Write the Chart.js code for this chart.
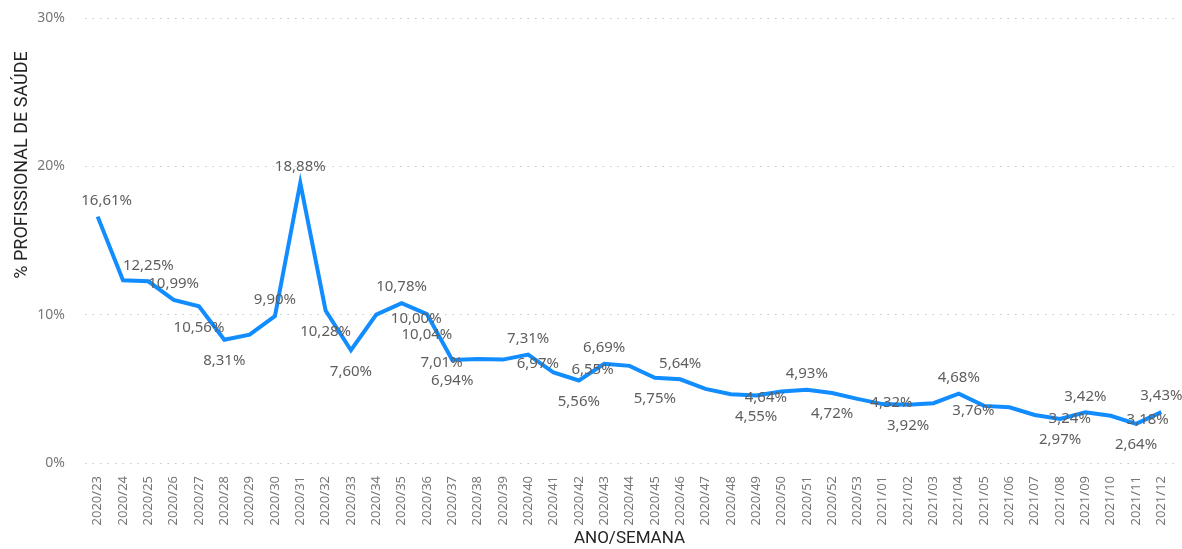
<!DOCTYPE html>
<html>
<head>
<meta charset="utf-8">
<script src="https://cdn.jsdelivr.net/npm/chart.js@4"></script>
<style>
  html, body { margin: 0; padding: 0; background: #fff; }
  #wrap { width: 1182px; height: 549px; position: relative; }
</style>
</head>
<body>
<div id="wrap"><canvas id="chart"></canvas></div>
<script>
const weeks = [
    '2020/23', '2020/24', '2020/25', '2020/26', '2020/27', '2020/28', '2020/29', '2020/30',
    '2020/31', '2020/32', '2020/33', '2020/34', '2020/35', '2020/36', '2020/37', '2020/38',
    '2020/39', '2020/40', '2020/41', '2020/42', '2020/43', '2020/44', '2020/45', '2020/46',
    '2020/47', '2020/48', '2020/49', '2020/50', '2020/51', '2020/52', '2020/53',
    '2021/01', '2021/02', '2021/03', '2021/04', '2021/05', '2021/06', '2021/07', '2021/08',
    '2021/09', '2021/10', '2021/11', '2021/12'
];

const pctHealth = [
    16.61, 12.32, 12.25, 10.99, 10.56, 8.31, 8.65, 9.90,
    18.88, 10.28, 7.60, 10.00, 10.78, 10.04, 6.94, 7.01,
    6.97, 7.31, 6.10, 5.56, 6.69, 6.55, 5.75, 5.64,
    5.00, 4.64, 4.55, 4.82, 4.93, 4.72, 4.32,
    3.97, 3.92, 4.03, 4.68, 3.85, 3.76, 3.24, 2.97,
    3.42, 3.18, 2.64, 3.43
];

const yTicks = [0, 10, 20, 30];

// where each value label sits: a = above, b = below, s = shifted sideways, '' = hidden
const labelPos = [
    'a', '', 'a', 'a', 'b', 'b', '', 'a',
    'a', 'b', 'b', 's', 'a', 'b', 'b', 's',
    's', 'a', '', 'b', 'a', 's', 'b', 'a',
    '', 's', 'b', '', 'a', 'b', 's',
    '', 'b', '', 'a', '', 's', 's', 'b',
    'a', 's', 'b', 'a'
];
const labelShift = { 0: 9, 11: 40, 15: -36, 16: 35, 21: -37, 25: 35, 30: 34, 36: -36, 37: 35, 40: 37 };

const fmt = v => v.toFixed(2).replace('.', ',') + '%';

const valueLabels = {
    id: 'valueLabels',
    afterDatasetsDraw(chart) {
        const ctx = chart.ctx;
        const meta = chart.getDatasetMeta(0);
        ctx.save();
        ctx.font = '15px "Noto Sans"';
        ctx.fillStyle = '#605E5C';
        ctx.textAlign = 'center';
        ctx.textBaseline = 'middle';
        meta.data.forEach((pt, i) => {
            const pos = labelPos[i];
            if (!pos) return;
            const dx = labelShift[i] || 0;
            let y = pt.y;
            if (pos === 'a') y -= 16;
            else if (pos === 'b') y += 21;
            else y += 4;
            ctx.fillText(fmt(pctHealth[i]), pt.x + dx, y);
        });
        ctx.restore();
    }
};

// y axis title sits in the upper part of the left margin, like the original
const yTitle = {
    id: 'yTitle',
    afterDraw(chart) {
        const ctx = chart.ctx;
        ctx.save();
        ctx.translate(22, 165);
        ctx.rotate(-Math.PI / 2);
        ctx.font = '18px Roboto';
        ctx.fillStyle = '#252423';
        ctx.textAlign = 'center';
        ctx.textBaseline = 'middle';
        ctx.fillText('% PROFISSIONAL DE SAÚDE', 0, 0);
        ctx.restore();
    }
};

new Chart(document.getElementById('chart'), {
    type: 'line',
    data: {
        labels: weeks,
        datasets: [{
            data: pctHealth,
            borderColor: '#118DFF',
            borderWidth: 4,
            pointRadius: 0,
            tension: 0,
            fill: false
        }]
    },
    options: {
        responsive: true,
        maintainAspectRatio: false,
        animation: false,
        layout: { padding: { top: 18, right: 3, left: 0, bottom: 0 } },
        plugins: {
            legend: { display: false },
            tooltip: { enabled: false }
        },
        scales: {
            x: {
                offset: true,
                grid: { display: false },
                border: { display: false },
                ticks: {
                    autoSkip: false,
                    minRotation: 90,
                    maxRotation: 90,
                    padding: 5,
                    color: '#777',
                    font: { family: '"Noto Sans"', size: 13 }
                },
                title: {
                    display: true,
                    text: 'ANO/SEMANA',
                    color: '#252423',
                    font: { family: 'Roboto', size: 17 },
                    padding: { top: 0, bottom: 0 }
                },
                afterFit(scale) { scale.height = 86; }
            },
            y: {
                min: 0,
                max: 30,
                afterBuildTicks(scale) { scale.ticks = yTicks.map(v => ({ value: v })); },
                grid: {
                    color: '#C8C8C8',
                    lineWidth: 1,
                    drawTicks: false
                },
                border: { display: false, dash: [1.5, 6] },
                ticks: {
                    padding: 20,
                    color: '#777',
                    font: { family: '"Noto Sans"', size: 14 },
                    callback: v => v + '%'
                },
                title: { display: false },
                afterFit(scale) {
                    scale.width = 85;
                    scale.paddingTop = 0;
                    scale.paddingBottom = 0;
                }
            }
        }
    },
    plugins: [valueLabels, yTitle]
});
</script>
</body>
</html>
